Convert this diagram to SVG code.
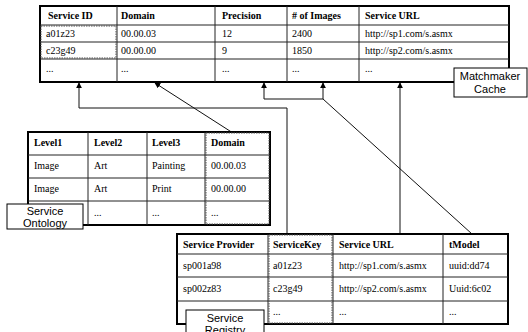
<svg xmlns="http://www.w3.org/2000/svg" width="528" height="332" viewBox="0 0 528 332">
<defs>
<marker id="arr" viewBox="0 0 8 8" refX="7" refY="4" markerWidth="6" markerHeight="6" orient="auto" markerUnits="userSpaceOnUse">
<path d="M0,0 L8,4 L0,8 z" fill="#000"/>
</marker>
<style>
.outer{fill:#fff;stroke:#000;stroke-width:2}
.in{stroke:#222;stroke-width:1;fill:none}
.hl{stroke:#555;stroke-width:1;fill:none;stroke-dasharray:1.5 1}
.h{font-family:"Liberation Serif",serif;font-size:10px;font-weight:bold;fill:#000}
.t{font-family:"Liberation Serif",serif;font-size:10px;fill:#000}
.lbl{fill:#fff;stroke:#000;stroke-width:1}
.lt{font-family:"Liberation Sans",sans-serif;font-size:11px;fill:#000;text-anchor:middle}
.c{stroke:#111;stroke-width:1;fill:none}
</style>
</defs>

<g id="connectors">
<polyline class="c" points="287,234 287,108 79,108 79,83" marker-end="url(#arr)"/>
<line class="c" x1="233" y1="133" x2="155" y2="83" marker-end="url(#arr)"/>
<polyline class="c" points="472,234 323,99 264,99 264,83" marker-end="url(#arr)"/>
<line class="c" x1="323" y1="99" x2="323" y2="83" marker-end="url(#arr)"/>
<line class="c" x1="400" y1="234" x2="400" y2="83" marker-end="url(#arr)"/>
</g>

<g id="matchmaker-cache-table">
<rect class="outer" x="40" y="6" width="469" height="76"/>
<path class="in" d="M40,25H509M40,42H509M40,59H509M117,6V82M215,6V82M287,6V82M359,6V82"/>
<rect class="hl" x="41" y="26" width="75" height="32"/>
<text class="h" x="48" y="19">Service ID</text>
<text class="h" x="121" y="19">Domain</text>
<text class="h" x="222" y="19">Precision</text>
<text class="h" x="292" y="19"># of Images</text>
<text class="h" x="365" y="19">Service URL</text>
<text class="t" x="46" y="37">a01z23</text>
<text class="t" x="121" y="37">00.00.03</text>
<text class="t" x="222" y="37">12</text>
<text class="t" x="292" y="37">2400</text>
<text class="t" x="365" y="37">http://sp1.com/s.asmx</text>
<text class="t" x="46" y="54">c23g49</text>
<text class="t" x="121" y="54">00.00.00</text>
<text class="t" x="222" y="54">9</text>
<text class="t" x="292" y="54">1850</text>
<text class="t" x="365" y="54">http://sp2.com/s.asmx</text>
<text class="t" x="46" y="72">...</text>
<text class="t" x="121" y="72">...</text>
<text class="t" x="222" y="72">...</text>
<text class="t" x="292" y="72">...</text>
<text class="t" x="365" y="72">...</text>
</g>

<g id="matchmaker-cache-label">
<rect class="lbl" x="454" y="68" width="73" height="29"/>
<text class="lt" x="490" y="80">Matchmaker</text>
<text class="lt" x="490" y="93">Cache</text>
</g>

<g id="service-ontology-table">
<rect class="outer" x="28" y="132" width="242" height="93"/>
<path class="in" d="M28,155H270M28,178H270M28,201H270M88,132V225M147,132V225M205,132V225"/>
<rect class="hl" x="206" y="133" width="63" height="91"/>
<text class="h" x="34" y="146">Level1</text>
<text class="h" x="94" y="146">Level2</text>
<text class="h" x="152" y="146">Level3</text>
<text class="h" x="211" y="146">Domain</text>
<text class="t" x="34" y="169">Image</text>
<text class="t" x="94" y="169">Art</text>
<text class="t" x="152" y="169">Painting</text>
<text class="t" x="211" y="169">00.00.03</text>
<text class="t" x="34" y="192">Image</text>
<text class="t" x="94" y="192">Art</text>
<text class="t" x="152" y="192">Print</text>
<text class="t" x="211" y="192">00.00.00</text>
<text class="t" x="94" y="216">...</text>
<text class="t" x="152" y="216">...</text>
<text class="t" x="211" y="216">...</text>
</g>

<g id="service-ontology-label">
<rect class="lbl" x="7" y="204" width="76" height="25"/>
<text class="lt" x="45" y="215">Service</text>
<text class="lt" x="45" y="227">Ontology</text>
</g>

<g id="service-registry-table">
<rect class="outer" x="177" y="234" width="331" height="90"/>
<path class="in" d="M177,254H508M177,277H508M177,301H508M268,234V324M333,234V324M443,234V324"/>
<rect class="hl" x="269" y="235" width="63" height="88"/>
<text class="h" x="183" y="248">Service Provider</text>
<text class="h" x="273" y="248">ServiceKey</text>
<text class="h" x="339" y="248">Service URL</text>
<text class="h" x="449" y="248">tModel</text>
<text class="t" x="183" y="269">sp001a98</text>
<text class="t" x="273" y="269">a01z23</text>
<text class="t" x="339" y="269">http://sp1.com/s.asmx</text>
<text class="t" x="449" y="269">uuid:dd74</text>
<text class="t" x="183" y="292">sp002z83</text>
<text class="t" x="273" y="292">c23g49</text>
<text class="t" x="339" y="292">http://sp2.com/s.asmx</text>
<text class="t" x="449" y="292">Uuid:6c02</text>
<text class="t" x="273" y="315">...</text>
<text class="t" x="339" y="315">...</text>
<text class="t" x="449" y="315">...</text>
</g>

<g id="service-registry-label">
<rect class="lbl" x="186" y="310" width="78" height="30"/>
<text class="lt" x="225" y="322">Service</text>
<text class="lt" x="225" y="334">Registry</text>
</g>
</svg>
